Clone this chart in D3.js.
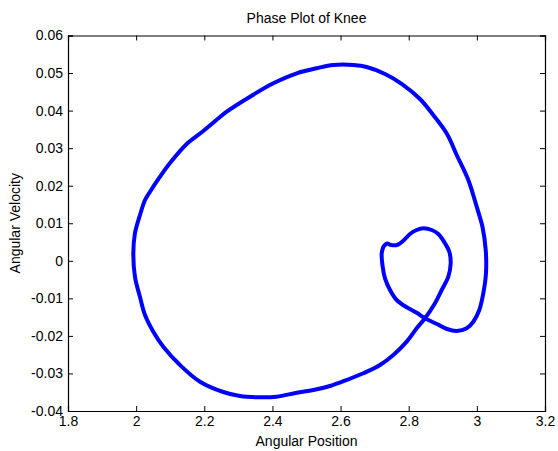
<!DOCTYPE html>
<html>
<head>
<meta charset="utf-8">
<script src="https://cdn.jsdelivr.net/npm/d3@7"></script>
<style>
  html, body { margin: 0; padding: 0; background: #fff; }
  text { font-family: Arial, "Liberation Sans", sans-serif; }
</style>
</head>
<body>
<svg id="chart" width="558" height="451"></svg>
<script>
// Data: angular position (x) and angular velocity (y)
const positions = [
  2.7254, 2.7363, 2.7480, 2.7656, 2.7841, 2.8038, 2.8234, 2.8428, 2.8675, 2.8868,
  2.9065, 2.9191, 2.9232, 2.9162, 2.8968, 2.8771, 2.8478, 2.8234, 2.7941, 2.7548,
  2.7157, 2.6667, 2.6180, 2.5690, 2.5200, 2.4712, 2.4125, 2.3635, 2.3048, 2.2558,
  2.1874, 2.1287, 2.0797, 2.0504, 2.0260, 2.0113, 1.9966, 1.9917, 1.9966, 2.0113,
  2.0260, 2.0407, 2.0700, 2.0994, 2.1484, 2.1971, 2.2461, 2.2658, 2.3342, 2.4026,
  2.4712, 2.5299, 2.5787, 2.6374, 2.6767, 2.7304, 2.7803, 2.8331, 2.8742, 2.9124,
  2.9408, 2.9749, 2.9995, 3.0166, 3.0260, 3.0268, 3.0189, 3.0072, 2.9896, 2.9702,
  2.9408, 2.9124, 2.8830, 2.8478, 2.8234, 2.7941, 2.7647, 2.7451, 2.7304, 2.7236,
  2.7207, 2.7254
];
const velocities = [
  0.00368, 0.00461, 0.00421, 0.00420, 0.00535, 0.00714, 0.00820, 0.00866, 0.00820, 0.00714,
  0.00466, 0.00242, -0.00067, -0.00423, -0.00778, -0.01132, -0.01531, -0.01798, -0.02154, -0.02509,
  -0.02775, -0.02996, -0.03174, -0.03334, -0.03441, -0.03513, -0.03619, -0.03635, -0.03600, -0.03494,
  -0.03220, -0.02775, -0.02288, -0.01888, -0.01443, -0.00964, -0.00431, 0.00200, 0.00740, 0.01220,
  0.01619, 0.01840, 0.02240, 0.02605, 0.03111, 0.03457, 0.03830, 0.03971, 0.04370, 0.04727,
  0.04993, 0.05127, 0.05214, 0.05214, 0.05161, 0.04975, 0.04708, 0.04309, 0.03856, 0.03377,
  0.02818, 0.02152, 0.01441, 0.00900, 0.00288, -0.00325, -0.00866, -0.01310, -0.01622, -0.01798,
  -0.01869, -0.01816, -0.01683, -0.01531, -0.01382, -0.01238, -0.01044, -0.00778, -0.00466, -0.00157,
  0.00200, 0.00368
];
const xTickValues = [1.8, 2.0, 2.2, 2.4, 2.6, 2.8, 3.0, 3.2];
const xTickLabels = ["1.8", "2", "2.2", "2.4", "2.6", "2.8", "3", "3.2"];
const yTickValues = [-0.04, -0.03, -0.02, -0.01, 0, 0.01, 0.02, 0.03, 0.04, 0.05, 0.06];
const yTickLabels = ["-0.04", "-0.03", "-0.02", "-0.01", "0", "0.01", "0.02", "0.03", "0.04", "0.05", "0.06"];
const titleText = "Phase Plot of Knee";
const xLabelText = "Angular Position";
const yLabelText = "Angular Velocity";

const svg = d3.select("#chart");
const margin = { left: 68, top: 35.5, right: 545, bottom: 411 };

const x = d3.scaleLinear().domain([1.8, 3.2]).range([margin.left, margin.right]);
const y = d3.scaleLinear().domain([-0.04, 0.06]).range([margin.bottom, margin.top]);

const pts = positions.map((p, i) => [p, velocities[i]]);

// Axes (inward ticks, box)
const fontSize = 14;
const gx = svg.append("g").attr("transform", `translate(0,${margin.bottom})`)
  .call(d3.axisBottom(x).tickValues(xTickValues)
    .tickFormat((d, i) => xTickLabels[i]).tickSize(-5).tickPadding(5));
const gxt = svg.append("g").attr("transform", `translate(0,${margin.top})`)
  .call(d3.axisTop(x).tickValues(xTickValues).tickFormat("").tickSize(-5));
const gy = svg.append("g").attr("transform", `translate(${margin.left},0)`)
  .call(d3.axisLeft(y).tickValues(yTickValues)
    .tickFormat((d, i) => yTickLabels[i]).tickSize(-5).tickPadding(5));
const gyr = svg.append("g").attr("transform", `translate(${margin.right},0)`)
  .call(d3.axisRight(y).tickValues(yTickValues).tickFormat("").tickSize(-5));

[gx, gxt, gy, gyr].forEach(g => {
  g.selectAll("path.domain").attr("stroke", "#000").attr("stroke-width", 1.2).attr("fill", "none");
  g.selectAll(".tick line").attr("stroke", "#000").attr("stroke-width", 1);
  g.selectAll("text").attr("fill", "#000").style("font-size", fontSize + "px")
    .style("font-family", "Arial, 'Liberation Sans', sans-serif");
});

// Curve
const line = d3.line().x(d => x(d[0])).y(d => y(d[1])).curve(d3.curveCatmullRom.alpha(0.5));
svg.append("path").datum(pts)
  .attr("d", line)
  .attr("fill", "none")
  .attr("stroke", "#0000ff")
  .attr("stroke-width", 4)
  .attr("stroke-linejoin", "round")
  .attr("stroke-linecap", "round");

// Title and labels
svg.append("text").attr("x", (margin.left + margin.right) / 2).attr("y", 23)
  .attr("text-anchor", "middle").style("font-size", "14px").text(titleText);
svg.append("text").attr("x", (margin.left + margin.right) / 2).attr("y", 446)
  .attr("text-anchor", "middle").style("font-size", fontSize + "px").text(xLabelText);
svg.append("text").attr("transform", `translate(20,${(margin.top + margin.bottom) / 2}) rotate(-90)`)
  .attr("text-anchor", "middle").style("font-size", fontSize + "px").text(yLabelText);
</script>
</body>
</html>
